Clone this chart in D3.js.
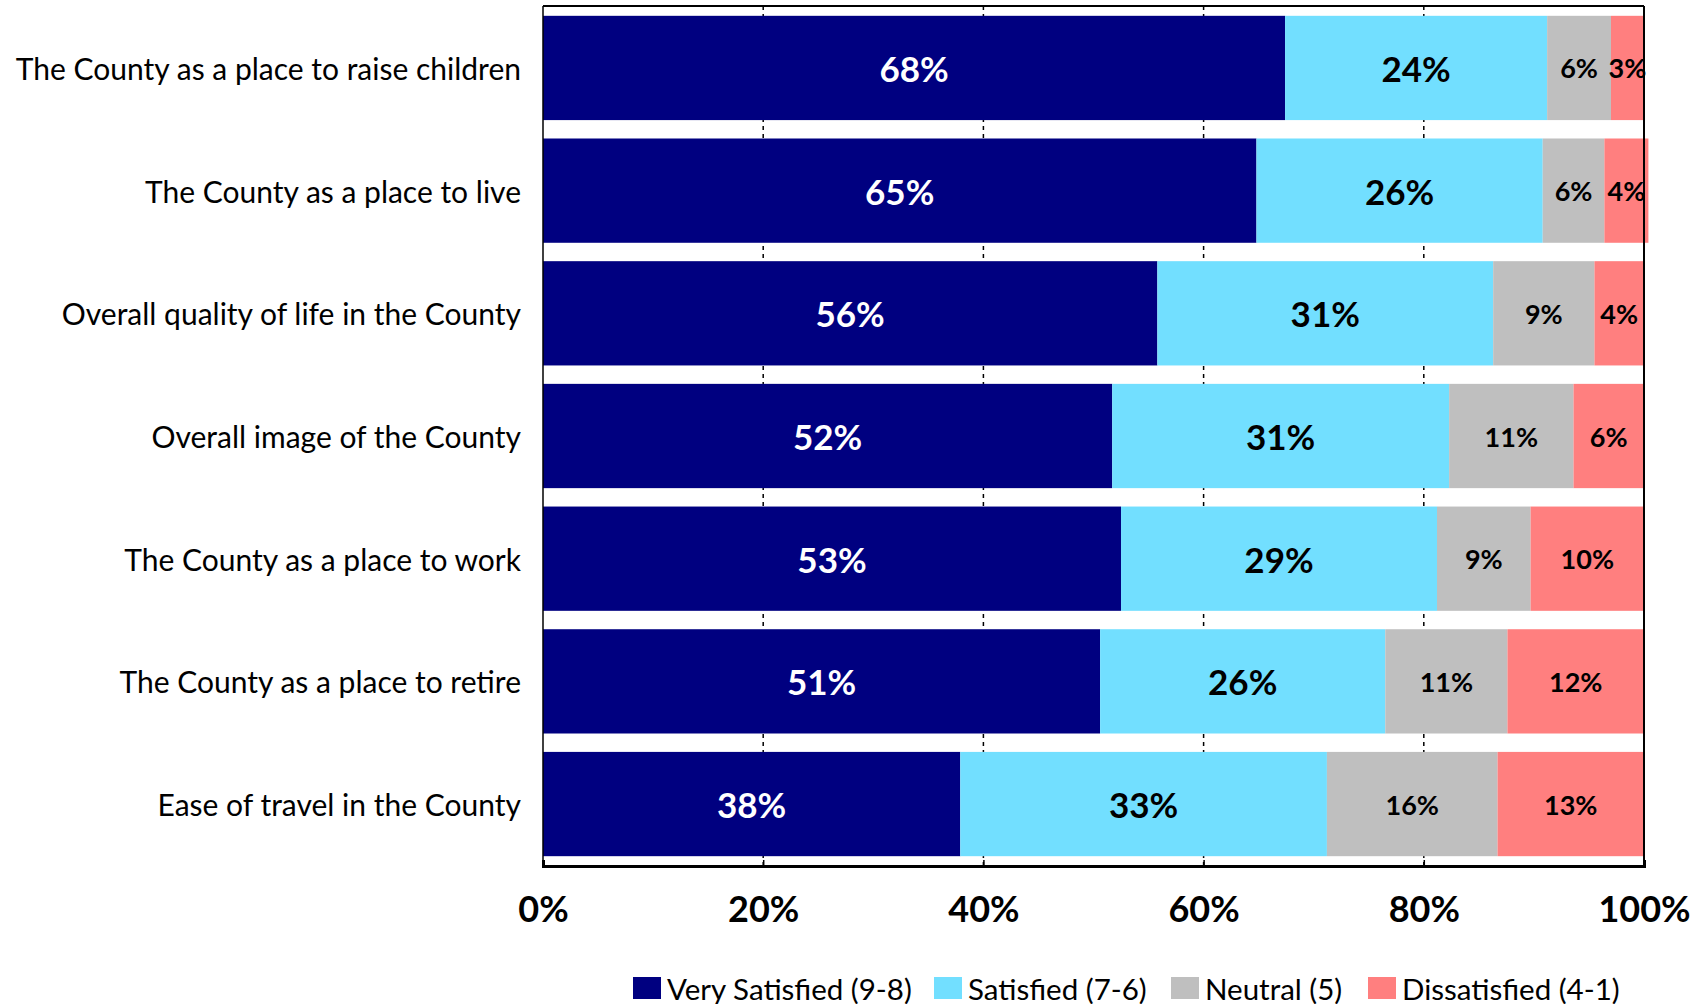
<!DOCTYPE html>
<html><head><meta charset="utf-8">
<script src="https://cdn.jsdelivr.net/npm/d3@7"></script>
<style>body{margin:0;background:#fff;} svg{display:block;font-family:Lato, "Open Sans", sans-serif;}</style>
</head><body>
<svg id="chart" width="1695" height="1004"></svg>
<script>
const categories = [
  "The County as a place to raise children",
  "The County as a place to live",
  "Overall quality of life in the County",
  "Overall image of the County",
  "The County as a place to work",
  "The County as a place to retire",
  "Ease of travel in the County"
];
const seriesNames = ["Very Satisfied (9-8)", "Satisfied (7-6)", "Neutral (5)", "Dissatisfied (4-1)"];
const verySatisfied = [67.4, 64.8, 55.8, 51.7, 52.5, 50.6, 37.9];
const satisfied     = [23.8, 26.0, 30.5, 30.6, 28.7, 25.9, 33.3];
const neutral       = [5.8, 5.6, 9.2, 11.3, 8.5, 11.1, 15.5];
const dissatisfied  = [3.0, 4.0, 4.5, 6.4, 10.3, 12.4, 13.3];
const labelsVS = ["68%","65%","56%","52%","53%","51%","38%"];
const labelsS  = ["24%","26%","31%","31%","29%","26%","33%"];
const labelsN  = ["6%","6%","9%","11%","9%","11%","16%"];
const labelsD  = ["3%","4%","4%","6%","10%","12%","13%"];
const xTicks = [0, 20, 40, 60, 80, 100];
const colors = ["#000080", "#72dfff", "#bfbfbf", "#ff7f7f"];

(function () {
const svg = d3.select("#chart");
const pLeft = 543, pRight = 1644, pTop = 6, pBottom = 866;
const x = d3.scaleLinear().domain([0, 100]).range([pLeft, pRight]);
const y = d3.scaleBand().domain(categories).range([pTop, pBottom]).paddingInner(0.15).paddingOuter(0.08);

svg.append("g").selectAll("line").data(xTicks.filter(t => t > 0 && t < 100)).join("line")
  .attr("x1", d => x(d)).attr("x2", d => x(d)).attr("y1", pTop).attr("y2", pBottom)
  .attr("stroke", "#000").attr("stroke-width", 1.5).attr("stroke-dasharray", "4,4");

const allSeries = [verySatisfied, satisfied, neutral, dissatisfied];
const allLabels = [labelsVS, labelsS, labelsN, labelsD];
const rows = categories.map((c, i) => {
  let acc = 0;
  return allSeries.map((s, k) => { const x0 = acc; acc += s[i]; return {cat: c, k, x0, x1: acc, label: allLabels[k][i]}; });
});
const segs = rows.flat();

svg.append("g").selectAll("rect").data(segs).join("rect")
  .attr("x", d => x(d.x0)).attr("y", d => y(d.cat))
  .attr("width", d => x(d.x1) - x(d.x0)).attr("height", y.bandwidth())
  .attr("fill", d => colors[d.k]);

svg.append("g").selectAll("text").data(segs).join("text")
  .attr("x", d => (x(d.x0) + x(d.x1)) / 2).attr("y", d => y(d.cat) + y.bandwidth() / 2)
  .attr("text-anchor", "middle").attr("dominant-baseline", "central")
  .attr("font-weight", "bold")
  .attr("font-size", d => d.k < 2 ? 35 : 27)
  .attr("fill", d => d.k === 0 ? "#fff" : "#000")
  .text(d => d.label);

svg.append("line").attr("x1", pLeft).attr("x2", pRight).attr("y1", pTop).attr("y2", pTop).attr("stroke", "#000").attr("stroke-width", 2);
svg.append("line").attr("x1", pRight).attr("x2", pRight).attr("y1", pTop).attr("y2", pBottom).attr("stroke", "#000").attr("stroke-width", 2);
svg.append("line").attr("x1", pLeft).attr("x2", pLeft).attr("y1", pTop).attr("y2", pBottom).attr("stroke", "#000").attr("stroke-width", 1.5);

const xAxis = svg.append("g").attr("transform", `translate(0,${pBottom})`)
  .call(d3.axisBottom(x).tickValues(xTicks).tickFormat(d => d + "%").tickSize(-6).tickPadding(30));
xAxis.select(".domain").attr("stroke", "#000").attr("stroke-width", 3);
xAxis.selectAll(".tick line").attr("stroke", "#000").attr("stroke-width", 1.5);
xAxis.selectAll("text").attr("font-size", 36).attr("font-weight", "bold").attr("fill", "#000")
  .attr("font-family", "Lato, sans-serif");

svg.append("g").selectAll("text").data(categories).join("text")
  .attr("x", pLeft - 22).attr("y", d => y(d) + y.bandwidth() / 2)
  .attr("text-anchor", "end").attr("dominant-baseline", "central")
  .attr("font-size", 30).attr("fill", "#000").text(d => d);

const legendX = [633, 934, 1171, 1368];
const lg = svg.append("g").selectAll("g").data(seriesNames).join("g")
  .attr("transform", (d, i) => `translate(${legendX[i]},988)`);
lg.append("rect").attr("x", 0).attr("y", -11).attr("width", 28).attr("height", 22).attr("fill", (d, i) => colors[i]);
lg.append("text").attr("x", 34).attr("y", 0).attr("dominant-baseline", "central")
  .attr("font-size", 29.5).attr("fill", "#000").text(d => d);
})();
</script>
</body></html>
